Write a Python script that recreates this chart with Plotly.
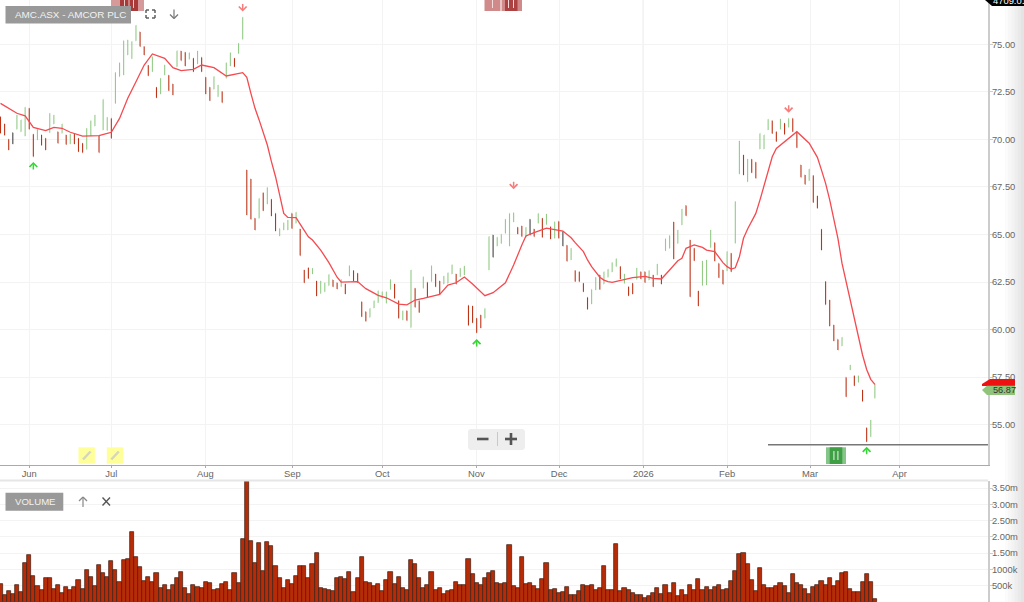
import plotly.graph_objects as go

highs = [
 71.20,70.82,70.01,70.36,71.29,71.03,71.69,71.64,70.27,70.54,
 70.24,70.06,71.38,71.29,70.41,70.82,70.24,70.29,70.29,70.06,
 69.80,70.59,70.99,71.29,70.18,72.11,71.17,71.11,73.52,74.04,
 75.20,75.24,75.15,76.01,75.66,74.89,73.90,74.36,72.75,73.22,
 73.92,73.38,72.92,74.67,74.66,74.59,74.57,74.27,74.66,74.32,
 73.27,72.75,73.31,72.87,72.52,74.04,74.57,74.27,75.06,76.43,
 68.39,67.92,65.85,66.90,67.20,67.47,66.85,66.11,65.32,65.62,
 65.76,66.11,66.17,65.29,63.13,63.25,63.22,62.55,62.55,62.46,
 62.90,62.61,62.46,62.63,62.39,63.36,63.10,62.96,61.46,60.94,
 61.11,61.52,62.04,61.99,61.99,62.63,62.39,61.52,60.99,60.99,
 63.13,62.17,61.52,62.78,62.48,63.36,62.92,62.55,62.81,62.99,
 63.41,62.92,63.22,63.34,61.27,61.24,60.59,60.76,61.11,64.89,
 64.97,64.85,65.01,65.80,66.11,66.15,65.38,65.45,65.38,65.80,
 65.29,66.11,65.85,66.08,65.41,65.67,65.69,65.15,64.43,64.27,
 63.10,63.04,62.43,61.69,62.11,62.75,62.87,63.04,63.17,63.52,
 63.73,63.31,62.92,62.25,62.43,63.24,63.04,63.04,63.10,62.87,
 63.45,62.87,64.78,64.95,65.66,65.24,66.34,66.52,64.71,64.27,
 62.03,63.60,63.66,65.24,64.57,63.48,63.13,64.10,64.01,66.73,
 69.92,69.18,68.97,68.96,68.80,70.32,70.24,71.06,70.99,70.41,
 71.08,70.85,71.11,71.11,70.41,68.66,68.13,68.45,68.10,67.03,
 65.27,62.52,61.55,60.24,59.48,59.59,57.48,58.13,57.57,57.57,
 56.82,54.83,55.24,57.13]
lows = [
 70.33,70.22,69.45,69.76,70.54,70.41,70.18,70.54,69.10,69.97,
 69.69,69.45,70.36,70.82,69.80,70.33,69.74,69.76,69.76,69.36,
 69.31,69.48,70.18,70.71,69.31,70.50,70.47,70.06,71.90,73.31,
 73.39,74.45,74.25,75.20,74.89,74.45,73.36,73.57,72.20,72.39,
 73.39,72.57,72.34,73.83,74.15,73.87,74.22,73.57,73.97,73.57,
 72.39,72.04,72.64,72.25,71.94,73.22,73.87,73.83,74.53,75.27,
 66.03,65.80,65.24,65.85,66.25,66.60,65.97,65.18,64.92,65.24,
 65.24,65.32,65.59,63.89,62.46,62.69,62.92,61.76,61.90,61.99,
 62.31,62.25,62.13,62.25,61.87,62.81,62.55,62.48,60.67,60.43,
 60.64,61.13,61.41,61.64,61.38,62.11,61.64,60.59,60.50,60.47,
 60.10,61.17,60.90,62.17,61.69,62.52,62.25,61.85,62.39,62.43,
 62.92,62.39,62.78,62.87,60.22,60.36,59.83,60.08,60.59,63.13,
 63.80,64.39,64.53,65.06,64.39,65.66,65.03,64.89,64.85,64.97,
 64.89,65.59,64.85,65.52,64.76,64.80,64.80,64.39,63.59,63.66,
 62.53,62.52,61.99,61.06,61.34,62.08,62.11,62.39,62.75,63.03,
 63.31,62.66,62.43,61.78,61.87,62.64,62.66,62.48,62.60,62.25,
 62.87,62.39,64.15,64.27,63.71,64.53,65.50,65.99,61.73,63.62,
 61.24,62.31,62.34,64.31,63.60,62.73,62.38,63.08,63.04,64.54,
 68.18,68.13,67.78,68.25,67.96,69.50,69.50,70.50,70.32,69.89,
 70.54,70.27,70.64,70.41,69.57,68.01,67.64,67.83,66.69,66.38,
 64.18,61.31,60.18,59.40,58.92,59.13,56.46,57.87,57.04,57.22,
 56.22,54.10,54.36,56.38]
directions = ("rrrngggrrg" "rrggrgrgrr" "rgggrggrgg" "ggggrrrgrg" "grrgrrgrgr"
              "rrggrggrgg" "rrrgrgrrgg" "grgrrrgrgg" "grrgrgrrrr" "ggggggrrgr"
              "grrgrgrrgg" "grggrrrrgg" "ngggggrrgn" "rgrgrgrnrg" "rrrrggrggg"
              "grgrrgrrgr" "grggrggrrr" "rgggrrrgrg" "grgrrgggrr" "grgrrrrgrr"
              "rrrrrgrgrg" "rrgg")
volumes = [
 530,195,325,225,500,305,1195,1440,805,480,
 355,715,715,400,520,275,450,375,460,675,
 400,990,765,490,1140,870,765,1265,990,610,
 1285,1315,2160,1365,1070,640,765,620,885,430,
 500,375,500,715,920,430,225,500,450,430,
 620,580,345,400,550,620,375,885,580,1920,
 3710,1885,1195,1805,960,1835,1715,1110,715,430,
 675,550,795,1110,1110,715,1165,1510,430,390,
 345,325,715,755,705,920,305,725,1390,610,
 570,470,550,315,675,920,530,765,430,345,
 1285,1165,715,430,500,920,345,430,245,315,
 365,620,500,520,1315,845,570,500,715,885,
 950,590,550,590,1745,470,430,1390,550,590,
 470,400,695,1195,345,390,275,295,450,215,
 215,315,500,470,520,345,430,1110,345,365,
 1785,315,420,355,275,205,205,110,175,275,
 430,225,500,275,570,165,365,205,520,375,
 695,345,450,375,450,520,365,400,640,950,
 1470,1510,1165,675,325,1040,520,430,430,490,
 590,470,255,845,570,520,400,225,450,520,
 640,500,745,470,640,885,920,400,295,295,
 620,845,620,80]
avg_days = [0,2,4,6,7,8,11,13,15,17,20,24,26,27,29,31,33,35,37,40,42,44,47,49,52,55,
 59,60,61,62,63,64,65,66,67,68,69,70,72,73,74,75,76,78,80,82,83,87,89,92,94,97,99,
 101,103,107,109,111,113,115,118,120,123,125,127,128,130,132,133,137,139,140,142,143,
 144,146,147,148,149,154,157,159,161,163,165,166,167,169,171,172,174,176,177,178,179,
 180,181,182,184,185,186,187,188,189,190,194,197,199,200,201,202,203,204,205,206,207,
 208,209,210,211,212,213]
avg_values = [71.90,71.64,71.38,71.24,70.94,70.64,70.47,70.64,70.59,70.38,70.18,70.20,70.32,70.38,
 71.11,72.17,73.04,73.92,74.50,74.27,73.78,73.62,73.69,73.92,73.78,73.34,
 73.52,73.27,72.43,71.64,71.03,70.41,69.71,68.83,68.04,67.08,66.11,65.90,65.89,65.55,65.20,64.88,64.71,
 64.18,63.52,62.75,62.49,62.52,62.15,61.80,61.67,61.34,61.30,
 61.55,61.64,61.85,62.34,62.46,62.76,62.39,61.78,61.94,62.46,63.39,64.45,64.92,65.10,65.27,65.33,65.18,64.83,64.57,64.10,63.66,
 63.31,62.75,62.60,62.52,62.48,62.73,62.80,62.69,62.66,63.13,63.62,63.75,64.27,64.45,64.32,64.18,64.10,63.52,63.31,63.18,63.25,
 63.83,64.80,65.29,66.11,66.81,67.61,68.39,69.09,69.53,69.71,70.41,69.80,69.06,68.39,67.69,66.82,65.85,64.80,63.48,62.52,61.46,
 60.50,59.54,58.66,57.90,57.38,57.11]
month_days = [7,27,49.9,71.1,93,115.9,136.1,156.6,177,197.2,219]
month_labels = ["Jun","Jul","Aug","Sep","Oct","Nov","Dec","2026","Feb","Mar","Apr"]
price_ticks = [55,57.5,60,62.5,65,67.5,70,72.5,75]
vol_ticks = [500,1000,1500,2000,2500,3000,3500]
vol_labels = ["500k","1000k","1.50m","2.00m","2.50m","3.00m","3.50m"]
up_days, up_prices = [8,116,211], [68.82,59.50,53.83]
down_days, down_prices = [59,125,192], [76.73,67.38,71.41]

FONT = "Liberation Sans"
GREEN, RED, DARK = "#93cb87", "#bb3418", "#444444"
W, H, PLOT_W = 1024, 602, 988
fx = lambda x: x / PLOT_W
fy = lambda y: 1 - y / H
days = list(range(len(highs)))

fig = go.Figure()
for code, col in (("g", GREEN), ("r", RED), ("n", DARK)):
    idx = [i for i in days if directions[i] == code]
    fig.add_trace(go.Ohlc(
        x=idx,
        open=[lows[i] if code == "g" else highs[i] for i in idx],
        high=[highs[i] for i in idx],
        low=[lows[i] for i in idx],
        close=[highs[i] if code == "g" else lows[i] for i in idx],
        tickwidth=0.08,
        increasing=dict(line=dict(color=col, width=1.1)),
        decreasing=dict(line=dict(color=col, width=1.1)),
        xaxis="x", yaxis="y", showlegend=False))
fig.add_trace(go.Scatter(x=avg_days, y=avg_values, mode="lines",
                         line=dict(color="#f44a50", width=1.3), xaxis="x", yaxis="y", showlegend=False))
fig.add_trace(go.Bar(x=days, y=[v * 1000 for v in volumes], width=1,
                     marker=dict(color="#b72c06", line=dict(color="#3a1d12", width=0.7)),
                     xaxis="x2", yaxis="y2", showlegend=False))

shapes, ann = [], []
def rect(x0, y0, x1, y1, fill, layer="above"):
    shapes.append(dict(type="rect", xref="paper", yref="paper", x0=fx(x0), x1=fx(x1), y0=fy(y0), y1=fy(y1),
                       fillcolor=fill, line=dict(width=0), layer=layer))
def seg(x0, y0, x1, y1, col, w=1, layer="above"):
    shapes.append(dict(type="line", xref="paper", yref="paper", x0=fx(x0), x1=fx(x1), y0=fy(y0), y1=fy(y1),
                       line=dict(color=col, width=w), layer=layer))
def poly(pts, fill):
    p = "M" + " L".join(f"{fx(a):.5f},{fy(b):.5f}" for a, b in pts) + " Z"
    shapes.append(dict(type="path", xref="paper", yref="paper", path=p, fillcolor=fill, line=dict(width=0)))
def label(x, y, text, size, col, anchor="left"):
    ann.append(dict(xref="paper", yref="paper", x=fx(x), y=fy(y), text=text, showarrow=False, xanchor=anchor,
                    yanchor="middle", font=dict(family=FONT, size=size, color=col), borderpad=0))

# right-hand fade
for i, c in enumerate(["#fbfbfb", "#f7f7f7", "#f3f3f3", "#eeeeee", "#e9e9e9", "#e4e4e4"]):
    rect(1005 + i * 3.2, 4, 1024, 602, c, "below")
# dark 2026 gridline
shapes.append(dict(type="line", xref="x", yref="paper", x0=156.6, x1=156.6, y0=fy(465), y1=1,
                   line=dict(color="#c8c8c8", width=1), layer="below"))
# separators
seg(0, 480.5, 988, 480.5, "#e6e6e6", 2)
# support line
seg(768, 444.7, 988, 444.7, "#777777", 1.5)

# top chips (under the title chip)
rect(111, 0, 144, 11, "#d79a9a")
rect(120, 0, 138, 11, "#a83a3a")
for x in (124, 128.5, 133):
    rect(x, 0, x + 1, 8, "#e8c8c8")
rect(484.5, 0, 500.5, 11, "#d08a8a")
rect(492, 0, 493, 8, "#f0dede")
rect(501.5, 0, 522, 11, "#d08a8a")
rect(505, 0, 517.5, 11, "#ad4242")
rect(508, 0, 509, 8, "#efd8d8"); rect(513, 0, 514, 8, "#efd8d8")

# label chips
rect(5.5, 6, 131, 23.5, "#999999")
label(13.5, 15, "AMC.ASX - AMCOR PLC", 9.9, "#f2f2f2")
rect(5.5, 492.7, 63.3, 510.7, "#999999")
label(13.5, 501.5, "VOLUME", 9.6, "#f2f2f2")

# fullscreen icon
for a, b, c, d, e, f in [(146,13,146,10,149,10),(152,10,155,10,155,13),(155,15,155,18,152,18),(149,18,146,18,146,15)]:
    seg(a, b, c, d, "#555555", 1.4); seg(c, d, e, f, "#555555", 1.4)
# sort arrow
seg(174, 9.5, 174, 18.5, "#777777", 1.2); seg(170, 14.5, 174, 18.5, "#777777", 1.2); seg(178, 14.5, 174, 18.5, "#777777", 1.2)
# volume icons
seg(83, 497, 83, 507, "#888888", 1.2); seg(79, 501, 83, 497, "#888888", 1.2); seg(87, 501, 83, 497, "#888888", 1.2)
seg(102.5, 497.5, 110, 505.5, "#555555", 1.4); seg(110, 497.5, 102.5, 505.5, "#555555", 1.4)

# green chip
rect(826, 447.3, 846, 464, "#86c58a")
rect(829.7, 447.3, 842.3, 464, "#3f9f45")
rect(833.3, 451, 834.5, 460, "#cfe8d0"); rect(837.3, 451, 838.5, 460, "#cfe8d0")
# pencil chips
for x0 in (78.5, 106.8):
    rect(x0, 447.3, x0 + 16.4, 463.7, "#ffff99")
    seg(x0 + 4.5, 459.5, x0 + 12, 451.5, "#d4d4c0", 2.5)
# zoom control
shapes.append(dict(type="path", xref="paper", yref="paper",
                   path=f"M{fx(470):.5f},{fy(429):.5f} L{fx(523):.5f},{fy(429):.5f} L{fx(525):.5f},{fy(431):.5f} L{fx(525):.5f},{fy(448):.5f} L{fx(523):.5f},{fy(450):.5f} L{fx(470):.5f},{fy(450):.5f} L{fx(468):.5f},{fy(448):.5f} L{fx(468):.5f},{fy(431):.5f} Z",
                   fillcolor="#eeeeee", line=dict(width=0)))
rect(477, 437.7, 488.5, 440.3, "#555555")
seg(497.5, 432, 497.5, 446, "#c8c8c8", 1)
rect(505, 437.7, 517, 440.3, "#555555")
rect(509.7, 433, 512.3, 445, "#555555")
# price tags
poly([(982, 384), (990, 379), (1015, 379), (1015, 386), (982, 386)], "#ee1111")
poly([(982, 390), (987, 385.7), (1015, 385.7), (1015, 395), (987, 395)], "#8fc47a")
label(991.5, 390.5, "56.87", 9.2, "#333333")
# index tag
poly([(985, 0), (1024, 0), (1024, 6), (992, 6)], "#000000")
label(992, 1, "4709.01", 9.4, "#ffffff")

# signal arrows
for xs, ys, col, tail in ((up_days, up_prices, "#35d635", 9), (down_days, down_prices, "#f77c7c", -9)):
    for a, b in zip(xs, ys):
        ann.append(dict(x=a, y=b, xref="x", yref="y", text="", showarrow=True, ax=0, ay=tail,
                        arrowhead=4, arrowsize=1.0, arrowwidth=1.5, arrowcolor=col))

axis_font = dict(family=FONT, size=9.4, color="#666666")
fig.update_layout(
    width=W, height=H, autosize=False, margin=dict(l=0, r=W - PLOT_W, t=0, b=0),
    paper_bgcolor="white", plot_bgcolor="white", bargap=0, shapes=shapes, annotations=ann,
    xaxis=dict(domain=[0, 1], range=[-0.122, 240.56], tickvals=month_days, ticktext=month_labels,
               showgrid=True, gridcolor="#f3f3f3", gridwidth=1, showline=True, linecolor="#aaaaaa", linewidth=1,
               ticks="outside", ticklen=2, tickcolor="#aaaaaa", tickfont=axis_font, zeroline=False,
               ticklabelstandoff=-2, rangeslider=dict(visible=False), anchor="y"),
    yaxis=dict(domain=[fy(465), 1], range=[52.87, 77.34], side="right", anchor="x", tickvals=price_ticks,
               tickformat=".2f", showgrid=True, gridcolor="#f3f3f3", gridwidth=1, showline=True, linecolor="#cccccc",
               linewidth=2, ticks="outside", ticklen=3, tickcolor="#cccccc", tickfont=axis_font, zeroline=False,
               ticklabelstandoff=-3),
    xaxis2=dict(domain=[0, 1], matches="x", showticklabels=False, showgrid=False, showline=False, zeroline=False,
                ticks="", anchor="y2", rangeslider=dict(visible=False)),
    yaxis2=dict(domain=[0, fy(481)], range=[-10000, 3721000], side="right", anchor="x2",
                tickvals=[v * 1000 for v in vol_ticks], ticktext=vol_labels, showgrid=True, gridcolor="#f3f3f3",
                showline=True, linecolor="#cccccc", linewidth=2, ticks="outside", ticklen=3, tickcolor="#cccccc",
                tickfont=axis_font, zeroline=False, ticklabelstandoff=-3),
)
fig.write_html("out.html", config=dict(displayModeBar=False),
               post_script="document.body.style.margin='0';document.body.style.overflow='hidden';")
